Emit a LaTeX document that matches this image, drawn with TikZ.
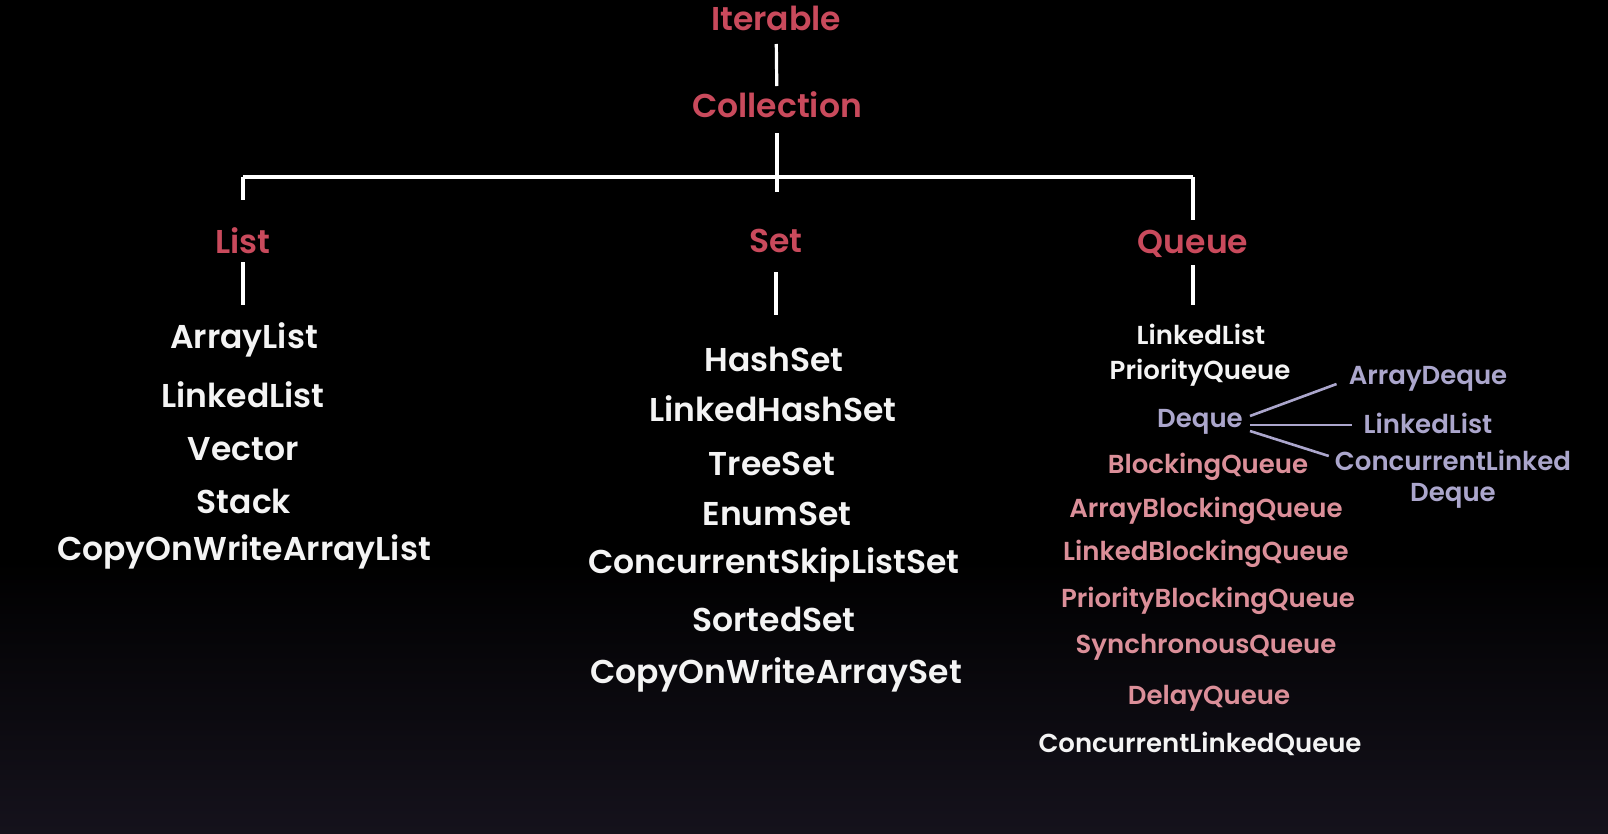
\documentclass[tikz,border=0pt]{standalone}
\usepackage{fontspec}
\setmainfont{Poppins}[BoldFont={Poppins SemiBold}]
\definecolor{titlered}{HTML}{C94A5C}
\definecolor{qpink}{HTML}{DB8F99}
\definecolor{dqpurple}{HTML}{ABA6CC}
\definecolor{itemwhite}{HTML}{F4F4F4}
\definecolor{glow}{HTML}{15121C}
\begin{document}
\begin{tikzpicture}[x=1pt,y=-1pt,
  title/.style={text=titlered, font=\fontsize{33}{36}\selectfont\bfseries, inner sep=0pt},
  item/.style={text=itemwhite, font=\fontsize{33}{36}\selectfont\bfseries, inner sep=0pt},
  qitem/.style={text=itemwhite, font=\fontsize{26}{30}\selectfont\bfseries, inner sep=0pt},
  bqitem/.style={qitem, text=qpink},
  dqitem/.style={qitem, text=dqpurple},
  conn/.style={draw=white, line width=3.2pt},
  dqconn/.style={draw=dqpurple, line width=2.6pt}]
\useasboundingbox (0,0) rectangle (1608,833);
\fill[black] (0,0) rectangle (1608,833);
\shade[top color=black, bottom color=glow] (0,560) rectangle (1608,833);

% titles
\node[title] (iter) at (776,18) {Iterable};
\node[title] (coll) at (777,105) {Collection};
\node[title] (list) at (243,241) {List};
\node[title] (set)  at (776,241) {Set};
\node[title] (queue) at (1193,244) {Queue};

\coordinate (jl) at (243,177);
\coordinate (jr) at (1193,177);
\coordinate (jc) at (777,192);

% list items
\node[item] (al)  at (244,340) {ArrayList};
\node[item] (ll)  at (243,395) {LinkedList};
\node[item] (vec) at (243,449) {Vector};
\node[item] (stk) at (244,501) {Stack};
\node[item] (cowal) at (244,552) {CopyOnWriteArrayList};

% set items
\node[item] (hs)   at (774,359) {HashSet};
\node[item] (lhs)  at (773,409) {LinkedHashSet};
\node[item] (ts)   at (772,464) {TreeSet};
\node[item] (es)   at (777,514) {EnumSet};
\node[item] (csls) at (774,565) {ConcurrentSkipListSet};
\node[item] (ss)   at (774,619) {SortedSet};
\node[item] (cowas) at (776,675) {CopyOnWriteArraySet};

% queue items
\node[qitem] (qll) at (1201,334) {LinkedList};
\node[qitem] (pq)  at (1200,373) {PriorityQueue};
\node[dqitem] (dq) at (1200,422) {Deque};
\node[bqitem] (bq)  at (1208,467) {BlockingQueue};
\node[bqitem] (abq) at (1206,511) {ArrayBlockingQueue};
\node[bqitem] (lbq) at (1206,554) {LinkedBlockingQueue};
\node[bqitem] (pbq) at (1208,601) {PriorityBlockingQueue};
\node[bqitem] (sq)  at (1206,647) {SynchronousQueue};
\node[bqitem] (dlq) at (1209,698) {DelayQueue};
\node[qitem] (clq) at (1200,744) {ConcurrentLinkedQueue};

% deque children
\node[dqitem] (ad)  at (1428,379) {ArrayDeque};
\node[dqitem] (dll) at (1428,423) {LinkedList};
\node[dqitem, align=center, font=\fontsize{26}{31}\selectfont\bfseries] (cld) at (1453,479) {ConcurrentLinked\\Deque};

% connectors
\draw[conn, shorten <=26pt, shorten >=19pt] (iter.center) -- (coll.center);
\draw[conn, shorten <=28pt] (coll.center) -- (jc);
\draw[conn] (jl) -- (jr);
\draw[conn, shorten >=41pt] (jl) -- (list.center);
\draw[conn, shorten >=24pt] (jr) -- (queue.center);
\draw[conn, shorten <=21pt, shorten >=35pt] (list.center) -- (list.center |- al.center);
\draw[conn, shorten <=31pt, shorten >=44pt] (set.center) -- (set.center |- hs.center);
\draw[conn, shorten <=21pt, shorten >=29pt] (queue.center) -- (queue.center |- qll.center);

\draw[dqconn] ([shift={(7,-6)}]dq.east) -- ([shift={(-12,5)}]ad.west);
\draw[dqconn] ([shift={(7,3)}]dq.east) -- ([shift={(-12,2)}]dll.west);
\draw[dqconn] ([shift={(7,9)}]dq.east) -- ([shift={(-6,-23)}]cld.west);
\end{tikzpicture}
\end{document}
